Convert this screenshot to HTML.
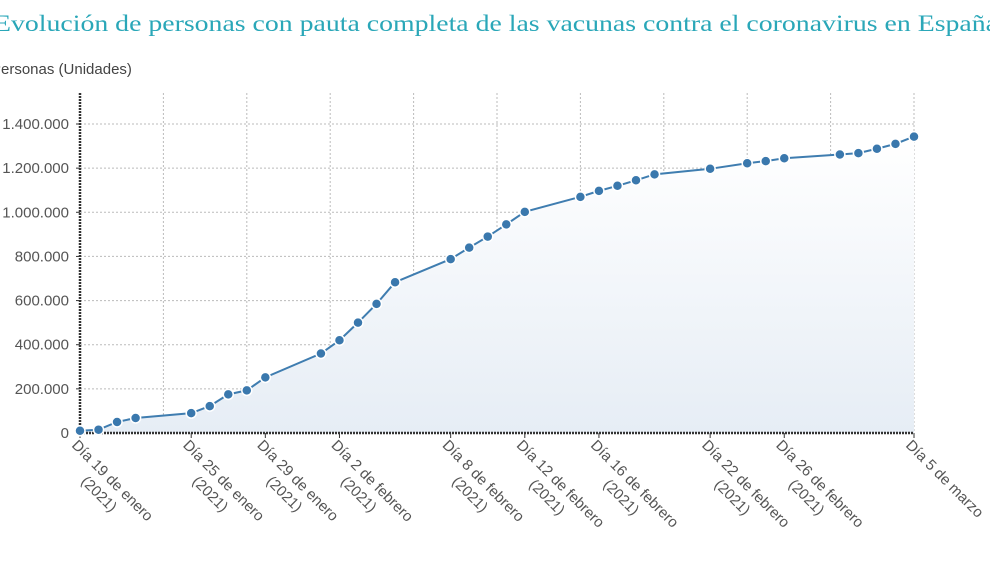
<!DOCTYPE html>
<html><head><meta charset="utf-8"><style>
body{margin:0;background:#fff;width:990px;height:556px;overflow:hidden;font-family:"Liberation Sans",sans-serif}
</style></head><body>
<svg width="990" height="556" xmlns="http://www.w3.org/2000/svg" font-family="Liberation Sans, sans-serif">
<defs><linearGradient id="ag" x1="0" y1="0" x2="0" y2="1"><stop offset="0" stop-color="#ffffff"/><stop offset="1" stop-color="#e6edf5"/></linearGradient></defs>
<text x="-6" y="31" font-size="23" font-family="Liberation Serif, serif" textLength="1004" lengthAdjust="spacingAndGlyphs" fill="#2aa7b8">Evolución de personas con pauta completa de las vacunas contra el coronavirus en España</text>
<text x="-9" y="74" font-size="15" fill="#444">Personas (Unidades)</text>
<g id="grid"></g><path id="area" fill="url(#ag)"/>
<g id="axes"></g><path id="line" fill="none" stroke="#3f7db0" stroke-width="2"/>
<g id="pts"></g><g id="labels"></g>
</svg>
<script>
const days=[0,1,2,3,6,7,8,9,10,13,14,15,16,17,20,21,22,23,24,27,28,29,30,31,34,36,37,38,41,42,43,44,45];
const values=[10000,15000,50000,68000,90000,122000,175000,193000,252000,360000,420000,500000,585000,683000,788000,840000,890000,945000,1002000,1070000,1097000,1120000,1145000,1172000,1197000,1222000,1232000,1245000,1262000,1268000,1288000,1310000,1343000];
const yTicks=[0,200000,400000,600000,800000,1000000,1200000,1400000];
const yTickLabels=["0","200.000","400.000","600.000","800.000","1.000.000","1.200.000","1.400.000"];
const xTickDays=[0,6,10,14,20,24,28,34,38,45];
const xTickLabels=["Día 19 de enero","Día 25 de enero","Día 29 de enero","Día 2 de febrero","Día 8 de febrero","Día 12 de febrero","Día 16 de febrero","Día 22 de febrero","Día 26 de febrero","Día 5 de marzo"];
const xTickSub=["(2021)","(2021)","(2021)","(2021)","(2021)","(2021)","(2021)","(2021)","(2021)",""];
const NS="http://www.w3.org/2000/svg";
const X=d=>80+d*(834/45), Y=v=>433-v*(309/1400000);
function mk(t,a,p){const e=document.createElementNS(NS,t);for(const k in a)e.setAttribute(k,a[k]);document.getElementById(p).appendChild(e);return e;}
for(let i=0;i<yTicks.length;i++){const y=Y(yTicks[i]);
 if(i>0){const g=mk('line',{x1:80,x2:914,y1:y,y2:y,stroke:'#bbb','stroke-dasharray':'2,2'},'grid');}
 const t=mk('text',{x:69,y:y+5,'text-anchor':'end','font-size':15,fill:'#555'},'axes');t.textContent=yTickLabels[i];
 
 mk('line',{x1:76,x2:80,y1:y,y2:y,stroke:'#333'},'axes');}
for(let i=1;i<=10;i++){const x=X(i*4.5);const g=mk('line',{x1:x,x2:x,y1:93,y2:433,stroke:'#bbb','stroke-dasharray':'2,2'},'grid');}
let ya=mk('line',{x1:80,x2:80,y1:93,y2:434,stroke:'#333','stroke-width':2.5,'stroke-dasharray':'2,1'},'axes');
let xa=mk('line',{x1:80,x2:914,y1:433,y2:433,stroke:'#333','stroke-width':2.5,'stroke-dasharray':'2,1'},'axes');
let d='';days.forEach((dd,i)=>{d+=(i?'L':'M')+X(dd)+','+Y(values[i]);});
document.getElementById('line').setAttribute('d',d);
document.getElementById('area').setAttribute('d',d+'L'+X(days[days.length-1])+',433L'+X(days[0])+',433Z');
days.forEach((dd,i)=>{const c=mk('circle',{cx:X(dd),cy:Y(values[i]),r:5,fill:'#3a78ad',stroke:'#fff','stroke-width':1.5},'pts');
 });
xTickDays.forEach((dd,i)=>{const x=X(dd);mk('line',{x1:x,x2:x,y1:433,y2:438,stroke:'#333'},'axes');
 const g=mk('g',{transform:`translate(${x-9},446) rotate(45)`},'labels');g.setAttribute('id','xl'+i);
 
 const t1=mk('text',{x:0,y:0,'font-size':15,fill:'#555'},'xl'+i);t1.textContent=xTickLabels[i];
 if(xTickSub[i]){const w=t1.getComputedTextLength();const t2=mk('text',{x:w/2,y:19,'text-anchor':'middle','font-size':15,fill:'#555'},'xl'+i);t2.textContent=xTickSub[i];}
});
</script>
</body></html>
